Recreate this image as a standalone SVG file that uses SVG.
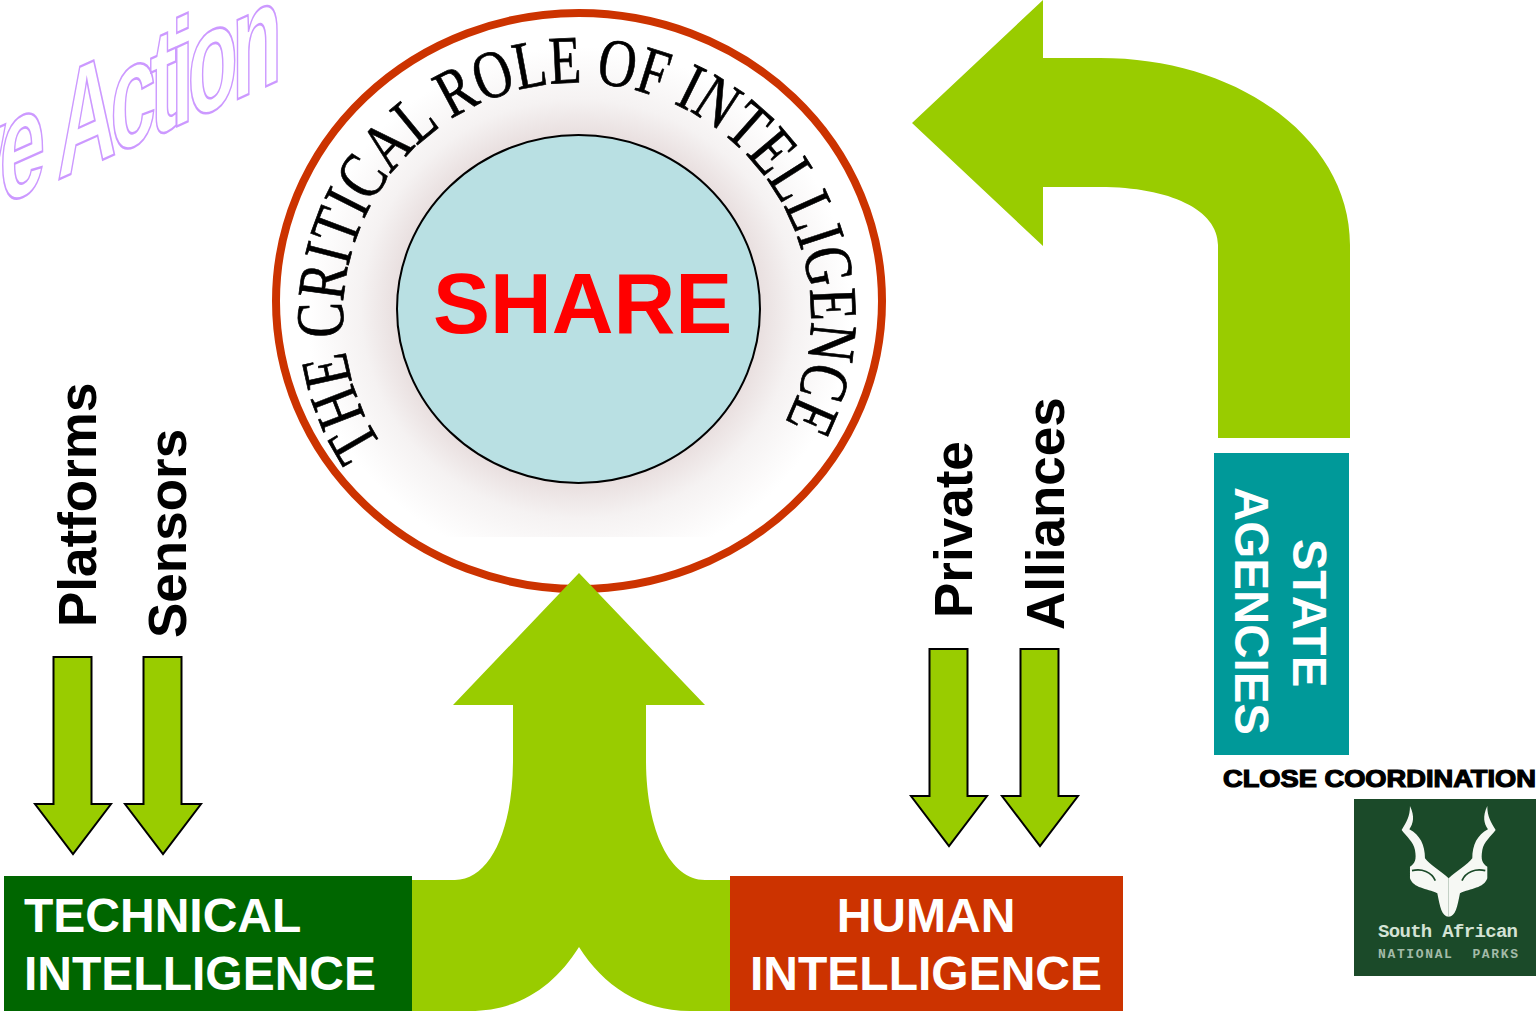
<svg xmlns="http://www.w3.org/2000/svg" width="1536" height="1013" viewBox="0 0 1536 1013">
<style>
text{font-family:"Liberation Sans",Arial,sans-serif;font-weight:bold}
.g{fill:#99cc00}
.a{fill:#99cc00;stroke:#000;stroke-width:2}
.lab{font-size:53px;fill:#000}
.w{font-size:48px;fill:#fff}
</style>
<defs>
<radialGradient id="halo" gradientUnits="userSpaceOnUse" cx="0" cy="0" r="1" gradientTransform="translate(578.5 309) scale(272 262)">
<stop offset="0.66" stop-color="#e8dede"/><stop offset="0.8" stop-color="#f5f2f2"/><stop offset="1" stop-color="#fff"/>
</radialGradient>
<path id="arc" d="M387 452A234 233 0 1 1 778 435"/>
<path id="a1" d="M-19.500 0H18.500V147H38L0 197L-38 147H-19.500Z"/>
</defs>
<rect width="1536" height="1013" fill="#fff"/>
<g id="wordart"><text transform="matrix(.55 -.2475 0 1 -40 224)" font-size="150" letter-spacing="-11.500" word-spacing="8" fill="#fff" stroke="#cc99ff" stroke-width="2.500">ve Action</text></g>
<g id="share">
<rect x="290" y="30" width="580" height="507" fill="url(#halo)"/>
<ellipse cx="579" cy="301" rx="303" ry="288" fill="none" stroke="#cc3300" stroke-width="8"/>
<text font-size="68" style="font-family:'Liberation Serif',serif;font-weight:normal" fill="#000" stroke="#000" stroke-width=".7"><textPath href="#arc" startOffset="8" textLength="982" lengthAdjust="spacingAndGlyphs">THE CRITICAL ROLE OF INTELLIGENCE</textPath></text>
<ellipse cx="578.5" cy="309" rx="181.5" ry="174" fill="#b9e0e3" stroke="#000" stroke-width="2"/>
<text x="433" y="333" font-size="85.500" fill="#ff0000">SHARE</text>
</g>
<g id="connectors">
<path class="g" d="M912 123L1043 0V58H1100C1240 58 1350 140 1350 245V438H1218V245C1218 210 1170 187 1100 187H1043V246Z"/>
<path class="g" d="M579 573L705 705H646V760C646 830 670 880 705 880H735V1011H690C640 1011 603 985 579 947C555 985 520 1011 470 1011H405V880H455C490 880 513 830 513 760V705H453Z"/>
<use href="#a1" class="a" x="73" y="657"/>
<use href="#a1" class="a" x="163" y="657"/>
<use href="#a1" class="a" x="949" y="649"/>
<use href="#a1" class="a" x="1040" y="649"/>
</g>
<g id="technical"><rect x="4" y="876" width="408" height="135" fill="#006600"/><text class="w" x="24" y="932">TECHNICAL</text><text class="w" x="24" y="990">INTELLIGENCE</text></g>
<g id="human"><rect x="730" y="876" width="393" height="135" fill="#cc3300"/><text class="w" x="926" y="932" text-anchor="middle">HUMAN</text><text class="w" x="926" y="990" text-anchor="middle">INTELLIGENCE</text></g>
<g id="platforms"><text class="lab" transform="translate(96 627) rotate(-90)">Platforms</text></g>
<g id="sensors"><text class="lab" transform="translate(186 638) rotate(-90)">Sensors</text></g>
<g id="private"><text class="lab" transform="translate(972 618) rotate(-90)">Private</text></g>
<g id="alliances"><text class="lab" transform="translate(1064 630) rotate(-90)">Alliances</text></g>
<g id="state"><rect x="1214" y="453" width="135" height="302" fill="#009999"/>
<text font-size="47.500" fill="#fff" text-anchor="middle" transform="translate(1293 613) rotate(90)">STATE</text>
<text font-size="47.500" fill="#fff" text-anchor="middle" transform="translate(1235 611) rotate(90)">AGENCIES</text></g>
<g id="coordination"><text x="1223" y="787" font-size="24" fill="#000" stroke="#000" stroke-width="1.200" textLength="313" lengthAdjust="spacingAndGlyphs">CLOSE COORDINATION</text></g>
<g id="logo"><rect x="1354" y="799" width="182" height="177" fill="#1b4a29"/>
<g transform="translate(1200 750) scale(.3333)">
<g id="half"><path fill="#f6f8f4" d="M630 168C645 200 640 220 628 238C660 255 675 285 675 325C690 345 725 365 746 385V500C725 500 720 470 712 430C680 415 640 415 630 385V350C645 340 650 330 645 300C640 275 620 260 605 240C620 215 630 200 630 168Z"/><path fill="none" stroke="#1b4a29" stroke-width="5" d="M636 362C665 355 695 365 706 392"/></g>
<use href="#half" transform="translate(1492 0) scale(-1 1)"/>
</g>
<text x="1378" y="937" font-size="19" fill="#d4e3d5" style="font-family:'Liberation Mono',monospace" textLength="140">South African</text>
<text x="1378" y="958" font-size="13" fill="#a3bba8" style="font-family:'Liberation Mono',monospace" textLength="140" xml:space="preserve">NATIONAL  PARKS</text>
</g>
</svg>
